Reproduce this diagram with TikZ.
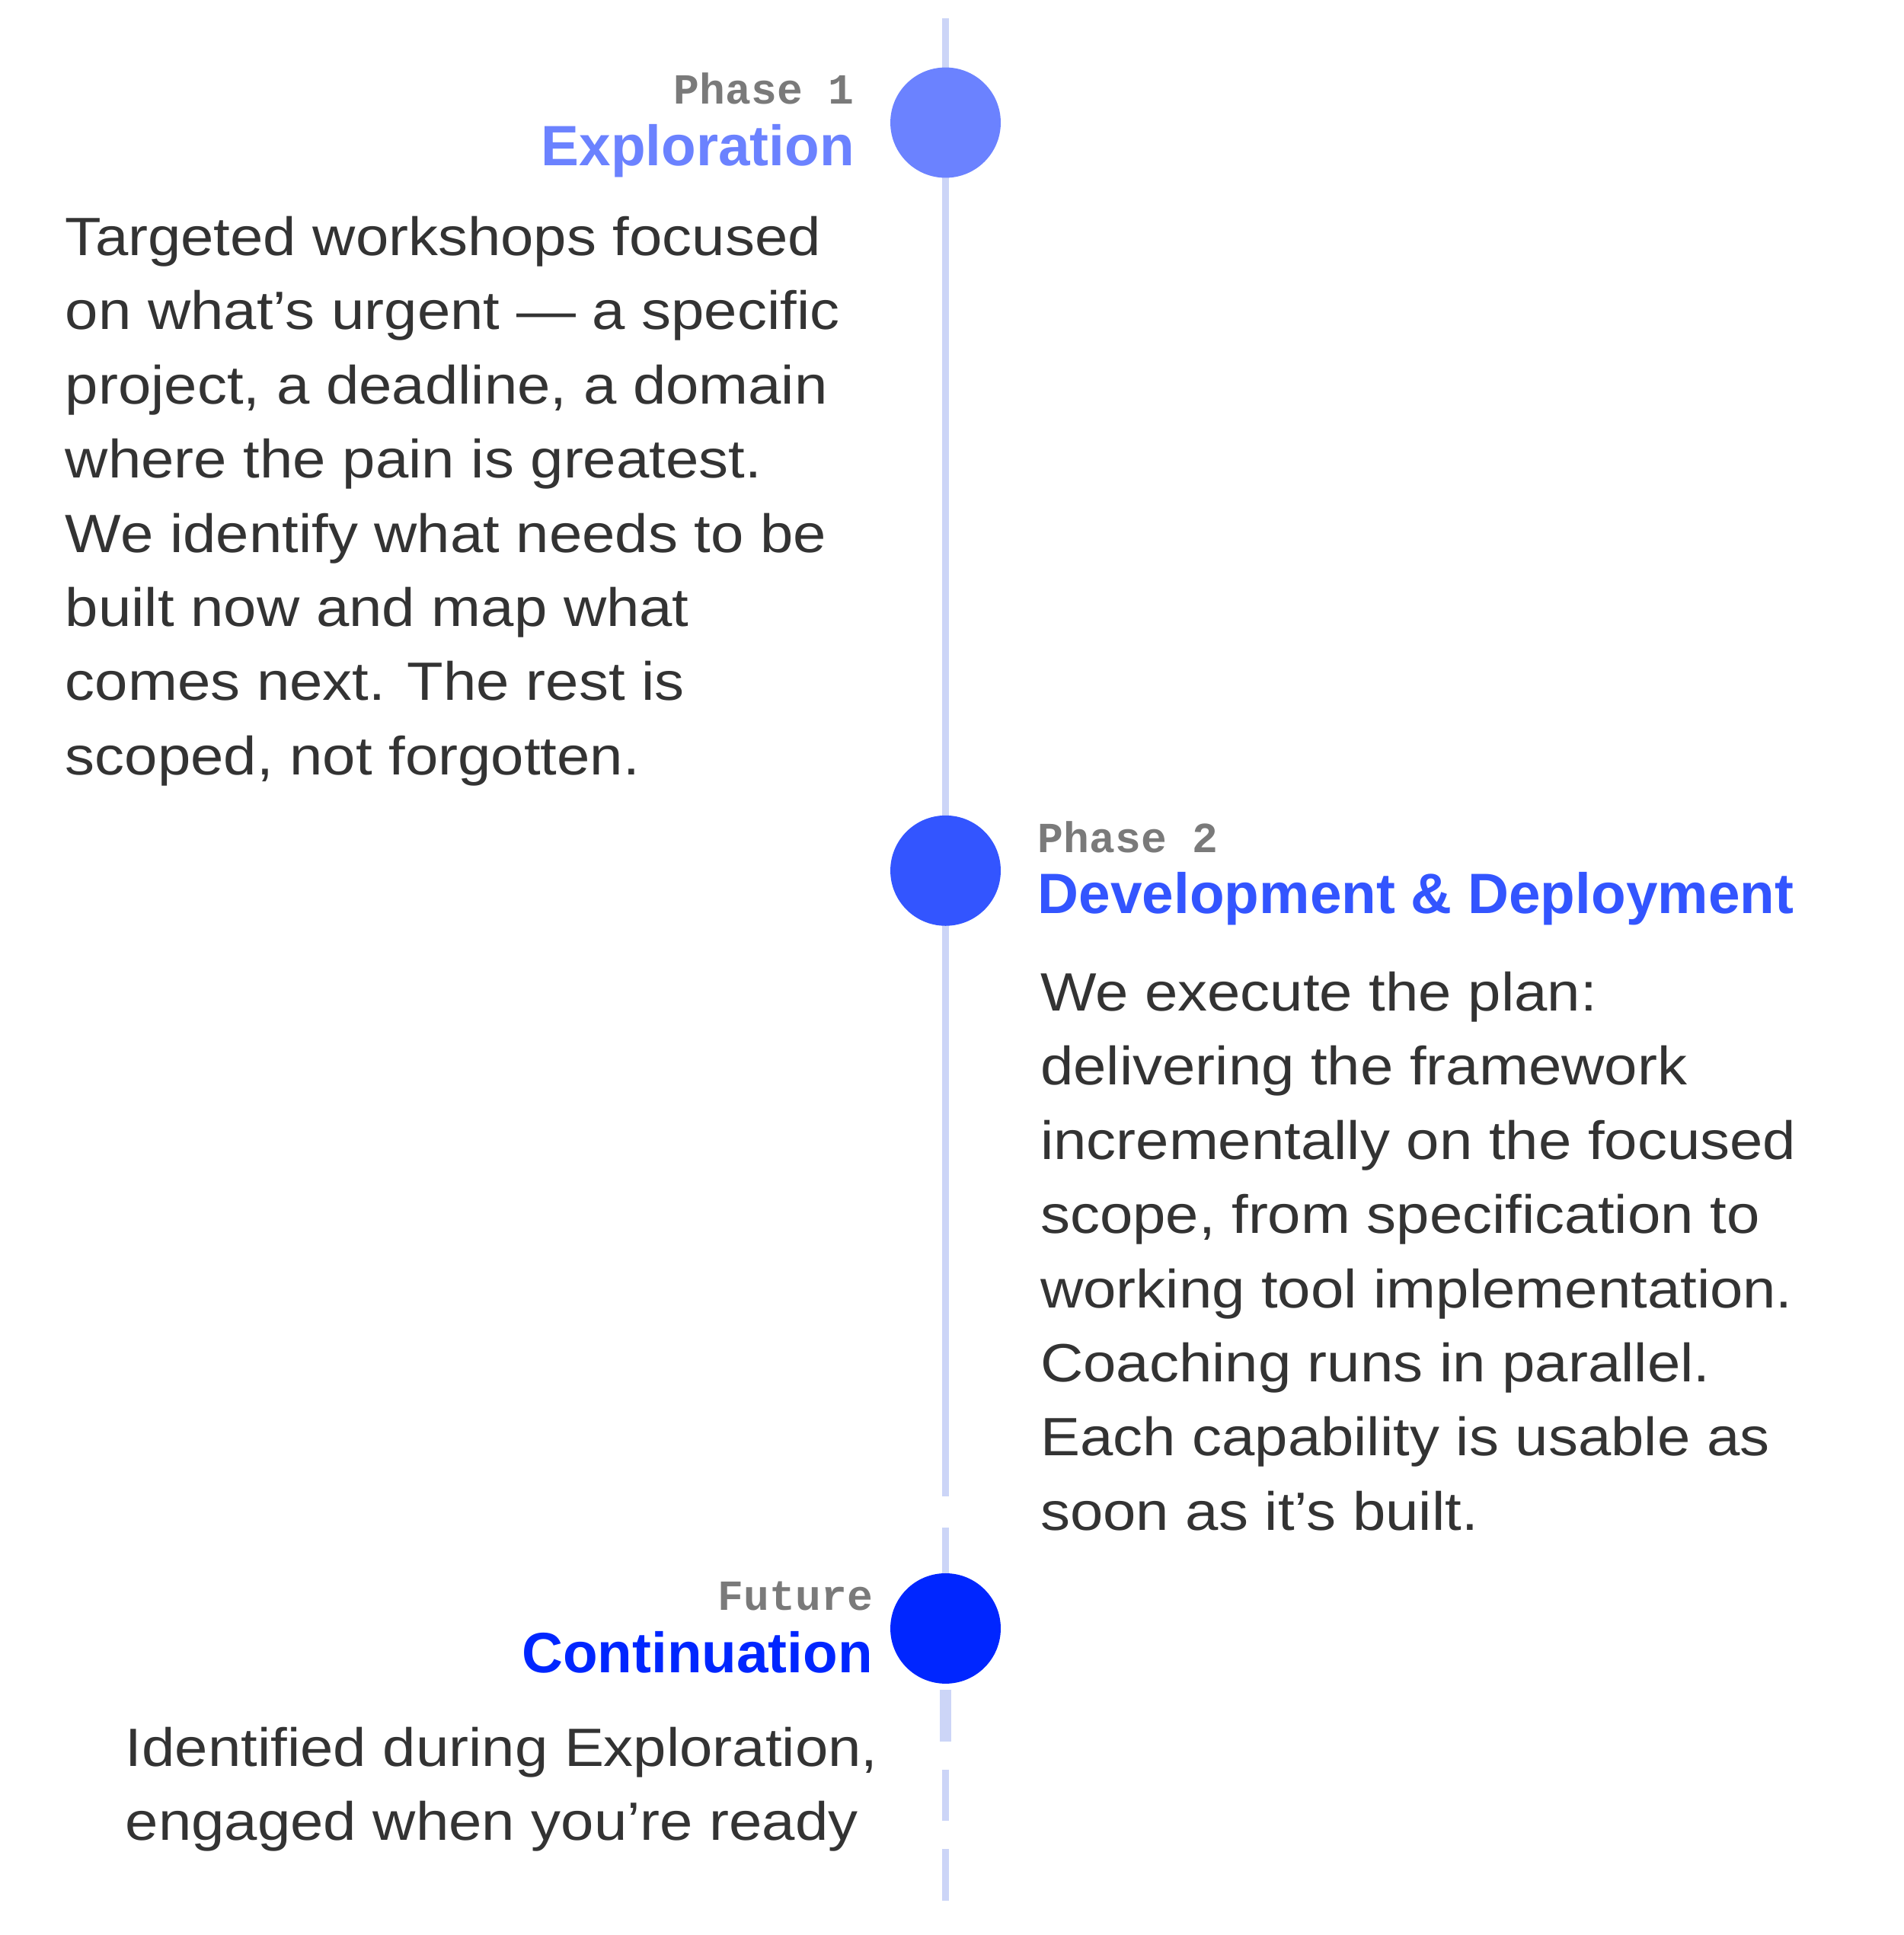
\documentclass[tikz,border=0pt]{standalone}
\usepackage{fontspec}
\setmainfont[FakeStretch=1.1]{Liberation Sans}
\newfontfamily\titlef{Liberation Sans}
\newfontfamily\monof{Liberation Mono}
\definecolor{linec}{HTML}{CCD5F7}
\definecolor{c1}{HTML}{6B82FF}
\definecolor{c2}{HTML}{3355FF}
\definecolor{c3}{HTML}{0026FF}
\definecolor{txt}{HTML}{333333}
\definecolor{gr}{HTML}{7A7A7A}
\begin{document}
\begin{tikzpicture}[x=0.5pt,y=-0.5pt,
  dot/.style={circle,minimum size=45pt,inner sep=0pt},
  phase/.style={font=\monof\bfseries\fontsize{17.5}{17.5}\selectfont,text=gr,inner sep=0pt},
  ttl/.style={font=\titlef\bfseries\fontsize{23.2}{23.2}\selectfont,inner sep=0pt},
  body/.style={font=\fontsize{22}{30.25}\selectfont,text=txt,align=left,inner sep=0pt,anchor=north west},
  seg/.style={linec,line width=3pt}]
\useasboundingbox (0,0) rectangle (1552,1578);
\coordinate (t0) at (771,15);
\coordinate (t1) at (771,1220);
\draw[seg] (t0) -- (t1);
\coordinate (d1a) at (771,1246); \coordinate (d1b) at (771,1290);
\draw[seg] (d1a) -- (d1b);
\coordinate (d2a) at (771,1378); \coordinate (d2b) at (771,1420);
\draw[linec,line width=4.5pt] (d2a) -- (d2b);
\coordinate (d3a) at (771,1443); \coordinate (d3b) at (771,1485);
\draw[seg] (d3a) -- (d3b);
\coordinate (d4a) at (771,1508); \coordinate (d4b) at (771,1550);
\draw[seg] (d4a) -- (d4b);
\node[dot,fill=c1] (n1) at (771,100) {};
\node[dot,fill=c2] (n2) at (771,710) {};
\node[dot,fill=c3] (n3) at (771,1328) {};
\node[phase,anchor=base east] (p1) at (697,85) {Phase 1};
\node[ttl,text=c1,anchor=base east] (t1l) at (697,135) {Exploration};
\node[body] (b1) at (53,176) {Targeted workshops focused\\on what's urgent — a specific\\project, a deadline, a domain\\where the pain is greatest.\\We identify what needs to be\\built now and map what\\comes next. The rest is\\scoped, not forgotten.};
\node[phase,anchor=base west] (p2) at (846,695) {Phase 2};
\node[ttl,text=c2,anchor=base west] (t2l) at (846,745) {Development \& Deployment};
\node[body] (b2) at (848,792) {We execute the plan:\\delivering the framework\\incrementally on the focused\\scope, from specification to\\working tool implementation.\\Coaching runs in parallel.\\Each capability is usable as\\soon as it's built.};
\node[phase,anchor=base east] (p3) at (712,1313) {Future};
\node[ttl,text=c3,anchor=base east] (t3l) at (712,1364) {Continuation};
\node[body] (b3) at (102,1408) {Identified during Exploration,\\engaged when you're ready};
\end{tikzpicture}
\end{document}
